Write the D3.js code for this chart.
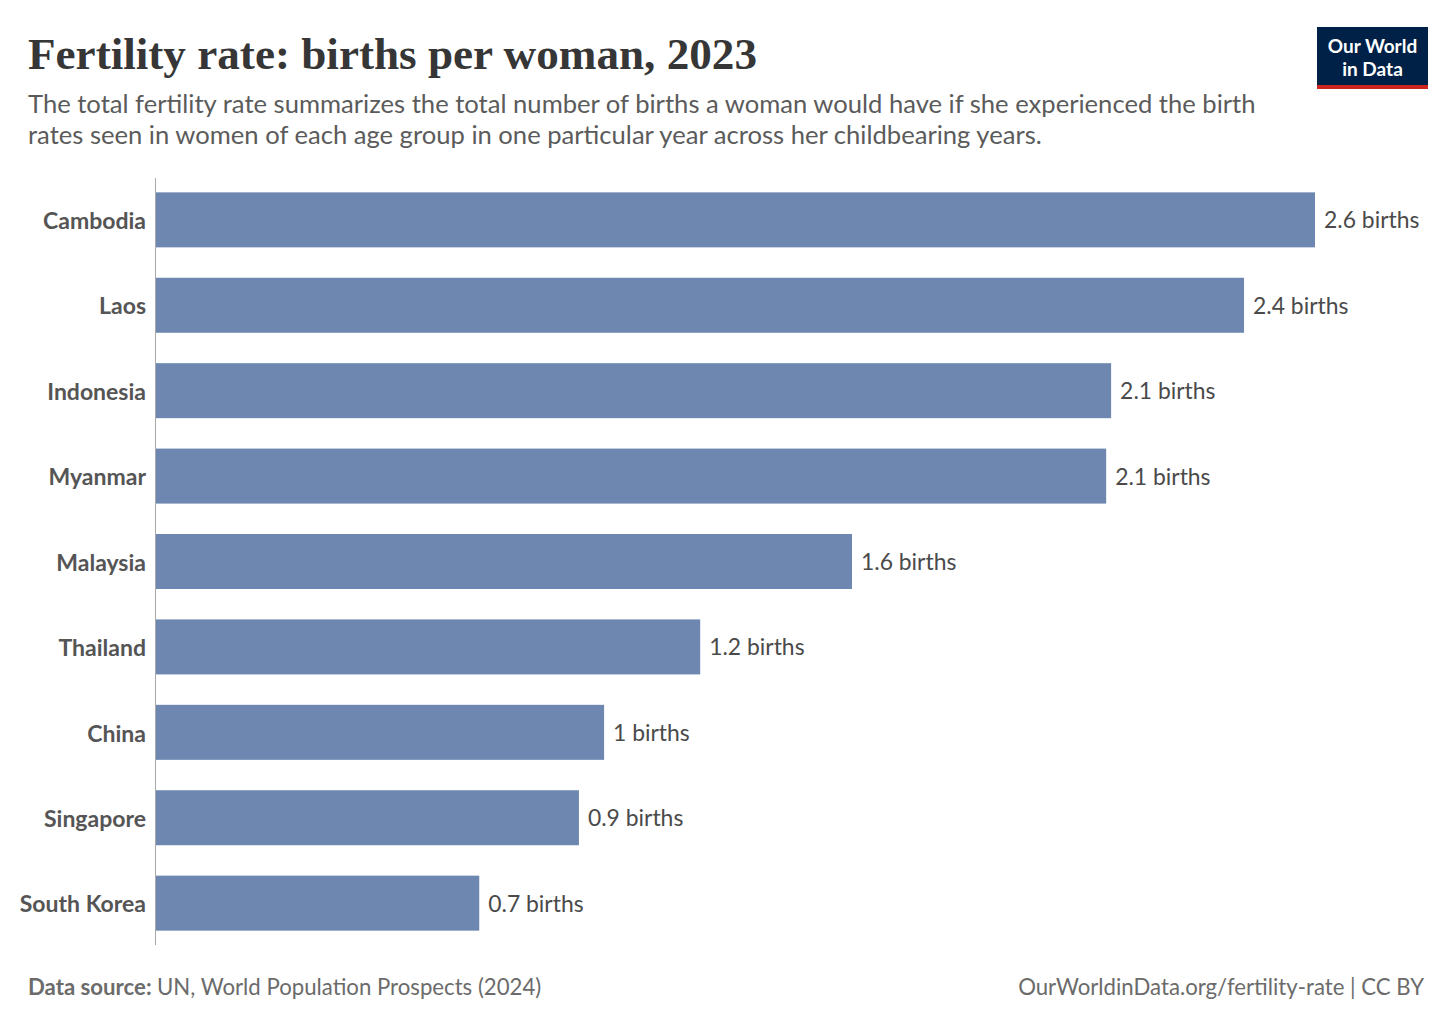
<!DOCTYPE html>
<html>
<head>
<meta charset="utf-8">
<script src="https://cdn.jsdelivr.net/npm/d3@7"></script>
<style>
  body { margin: 0; background: #fff; }
  svg { display: block; }
</style>
</head>
<body>
<div id="chart"></div>
<script>
// values (births per woman, 2023)
const countries = ["Cambodia", "Laos", "Indonesia", "Myanmar", "Malaysia", "Thailand", "China", "Singapore", "South Korea"];
const fertility = [2.583, 2.425, 2.129, 2.118, 1.552, 1.214, 1.0, 0.944, 0.722];
const valueLabels = ["2.6 births", "2.4 births", "2.1 births", "2.1 births", "1.6 births", "1.2 births", "1 births", "0.9 births", "0.7 births"];

const width = 1456, height = 1028;
const rows = countries.map((c, i) => ({ country: c, value: fertility[i], label: valueLabels[i] }));

const svg = d3.select("#chart").append("svg")
    .attr("width", width)
    .attr("height", height);

// header
svg.append("text")
    .attr("x", 28).attr("y", 69)
    .attr("font-family", "'Liberation Serif', serif")
    .attr("font-weight", "bold")
    .attr("font-size", 44)
    .attr("fill", "#363636")
    .attr("textLength", 729)
    .attr("lengthAdjust", "spacingAndGlyphs")
    .text("Fertility rate: births per woman, 2023");

const subtitle = [
    "The total fertility rate summarizes the total number of births a woman would have if she experienced the birth",
    "rates seen in women of each age group in one particular year across her childbearing years."
];
svg.append("g").selectAll("text")
    .data(subtitle)
    .enter().append("text")
    .attr("x", 28)
    .attr("y", (d, i) => 113 + i * 31)
    .attr("font-family", "Lato, sans-serif")
    .attr("font-size", 25.6)
    .attr("fill", "#5b5b5b")
    .text(d => d);

// logo
const logo = svg.append("g").attr("transform", "translate(1317, 27)");
logo.append("rect").attr("width", 111).attr("height", 62).attr("fill", "#002147");
logo.append("rect").attr("y", 58).attr("width", 111).attr("height", 4).attr("fill", "#ce261e");
logo.selectAll("text")
    .data(["Our World", "in Data"])
    .enter().append("text")
    .attr("x", 55.5)
    .attr("y", (d, i) => 26 + i * 23)
    .attr("text-anchor", "middle")
    .attr("font-family", "Lato, sans-serif")
    .attr("font-weight", "bold")
    .attr("font-size", 19)
    .attr("fill", "#fff")
    .text(d => d);

// scales
const x = d3.scaleLinear()
    .domain([0, d3.max(fertility)])
    .range([155, 1315]);

const y = d3.scaleBand()
    .domain(countries)
    .range([178, 945])
    .paddingInner(0.356)
    .paddingOuter(0.168);

// bars
svg.append("g").selectAll("rect")
    .data(rows)
    .enter().append("rect")
    .attr("x", x(0))
    .attr("y", d => y(d.country))
    .attr("width", d => x(d.value) - x(0))
    .attr("height", y.bandwidth())
    .attr("fill", "#6d87b0");

// value labels
svg.append("g").selectAll("text")
    .data(rows)
    .enter().append("text")
    .attr("x", d => x(d.value) + 9)
    .attr("y", d => y(d.country) + y.bandwidth() / 2)
    .attr("dy", "0.37em")
    .attr("font-family", "Lato, sans-serif")
    .attr("font-size", 22.9)
    .attr("fill", "#4a4a4a")
    .text(d => d.label);

// category axis
const yAxis = svg.append("g")
    .attr("transform", `translate(${x(0)}, 0)`)
    .call(d3.axisLeft(y).tickSize(0).tickPadding(9));
yAxis.select(".domain")
    .attr("stroke", "#a8a8a8")
    .attr("d", "M0.5,178V945");
yAxis.selectAll(".tick text")
    .attr("dy", "0.4em")
    .attr("font-family", "Lato, sans-serif")
    .attr("font-weight", "bold")
    .attr("font-size", 23)
    .attr("fill", "#555");

// footer
const source = svg.append("text")
    .attr("x", 28).attr("y", 995)
    .attr("font-family", "Lato, sans-serif")
    .attr("font-size", 22.2)
    .attr("fill", "#6b6b6b");
source.append("tspan").attr("font-weight", "bold").text("Data source: ");
source.append("tspan").text("UN, World Population Prospects (2024)");

svg.append("text")
    .attr("x", 1424).attr("y", 995)
    .attr("text-anchor", "end")
    .attr("font-family", "Lato, sans-serif")
    .attr("font-size", 22.2)
    .attr("fill", "#6b6b6b")
    .text("OurWorldinData.org/fertility-rate | CC BY");
</script>
</body>
</html>
